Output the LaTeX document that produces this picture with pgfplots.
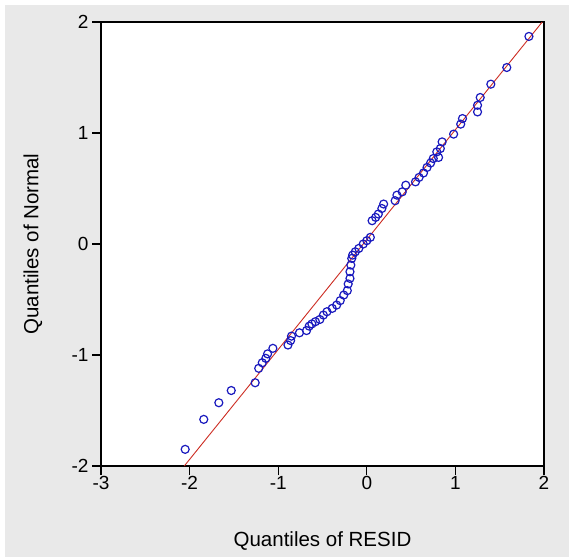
\documentclass[border=0pt]{standalone}
\usepackage{pgfplots}
\pgfplotsset{compat=1.18}
\usepackage{fontspec}
\setmainfont{Liberation Sans}
\definecolor{bggray}{RGB}{233,233,233}
\definecolor{ptblue}{RGB}{25,25,190}
\definecolor{fitred}{RGB}{205,45,35}
\begin{document}
\begin{tikzpicture}[x=1pt,y=1pt]
\path[use as bounding box] (0,0) rectangle (571,-559);
\fill[bggray] (5,-5) rectangle (569,-557);
\begin{axis}[
  at={(101pt,-466pt)}, anchor=south west,
  scale only axis, width=443pt, height=444pt,
  xmin=-3, xmax=2, ymin=-2, ymax=2,
  axis background/.style={fill=white},
  axis line style={black, line width=1.3pt},
  xtick={-3,-2,-1,0,1,2}, ytick={-2,-1,0,1,2},
  xticklabels={-3,-2,-1,0,1,2}, yticklabels={-2,-1,0,1,2},
  tick align=outside, major tick length=9pt,
  tick style={black, line width=1.1pt},
  xtick pos=bottom, ytick pos=left,
  tick label style={font=\fontsize{19}{21}\selectfont},
  xticklabel style={yshift=2pt},
  xlabel={Quantiles of RESID}, ylabel={Quantiles of Normal},
  label style={font=\fontsize{20.5}{23}\selectfont},
  xlabel style={at={(axis description cs:0.5,-0.169)}, anchor=center},
  ylabel style={at={(axis description cs:-0.1535,0.5)}, anchor=center},
  clip=true
]
\addplot[only marks, mark=o, mark size=4pt, ptblue, mark options={line width=1.2pt}]
  coordinates {
    (-2.05,-1.85)(-1.84,-1.58)(-1.67,-1.43)(-1.53,-1.32)(-1.26,-1.25)
    (-1.22,-1.12)(-1.18,-1.07)(-1.14,-1.03)(-1.12,-0.99)(-1.06,-0.94)
    (-0.89,-0.91)(-0.86,-0.87)(-0.85,-0.83)(-0.76,-0.80)(-0.68,-0.78)
    (-0.65,-0.74)(-0.62,-0.72)(-0.58,-0.70)(-0.53,-0.68)(-0.49,-0.64)
    (-0.45,-0.61)(-0.39,-0.58)(-0.34,-0.55)(-0.30,-0.51)(-0.26,-0.46)
    (-0.22,-0.42)(-0.21,-0.36)(-0.19,-0.31)(-0.19,-0.25)(-0.18,-0.19)
    (-0.17,-0.13)(-0.16,-0.10)(-0.13,-0.07)(-0.09,-0.04)
    (-0.04,0.00)(0.00,0.03)(0.04,0.06)(0.06,0.21)(0.10,0.24)
    (0.13,0.27)(0.17,0.32)(0.19,0.36)(0.32,0.39)(0.34,0.44)
    (0.40,0.47)(0.44,0.53)(0.55,0.56)(0.59,0.60)(0.64,0.64)
    (0.68,0.69)(0.72,0.73)(0.75,0.77)(0.79,0.83)(0.81,0.78)
    (0.83,0.86)(0.85,0.92)(0.98,0.99)(1.06,1.08)(1.08,1.13)
    (1.25,1.19)(1.25,1.25)(1.28,1.32)(1.40,1.44)(1.58,1.59)
    (1.83,1.87)
  };
\addplot[fitred, line width=0.9pt] coordinates {(-2.06,-2) (1.98,2)};
\end{axis}
\end{tikzpicture}
\end{document}
